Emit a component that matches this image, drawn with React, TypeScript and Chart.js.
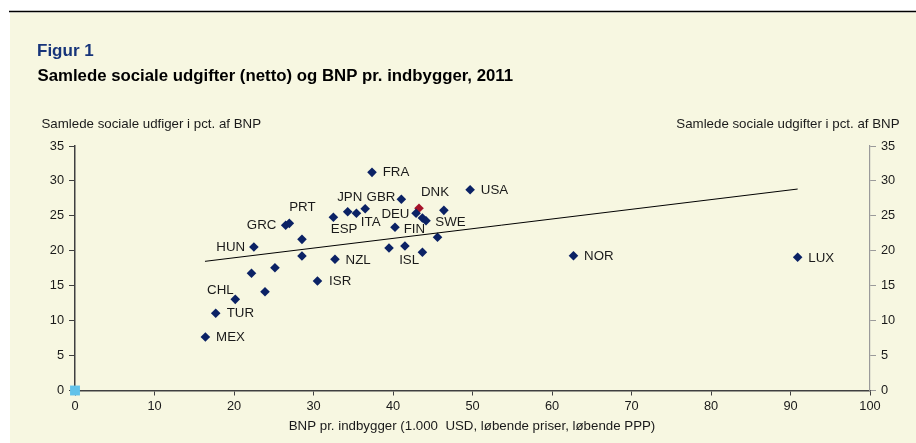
import React, { useEffect, useRef } from 'react';
import Chart from 'chart.js/auto';

// ---- Data ----
const countries = [
  'DNK', 'FRA', 'GBR', 'USA', '', 'DEU', '', 'SWE', '', 'FIN', '', 'ISL', '',
  'ITA', '', 'JPN', 'ESP', 'NZL', 'ISR', '', '', 'GRC', 'PRT', 'HUN', '', '', '',
  'CHL', 'TUR', 'MEX', 'NOR', 'LUX',
];
const gdpPerCapita = [
  43.27, 37.36, 41.05, 49.7, 46.4, 42.9, 43.7, 44.15, 45.6, 40.25, 39.5, 41.5, 43.7,
  36.5, 35.4, 34.3, 32.5, 32.7, 30.5, 28.55, 28.55, 26.5, 26.96, 22.5, 22.2, 25.15, 23.9,
  20.16, 17.7, 16.4, 62.7, 90.9,
];
const socialSpending = [
  26.08, 31.23, 27.37, 28.74, 25.79, 25.37, 24.69, 24.31, 21.93, 23.36, 20.4, 20.68, 19.78,
  26.02, 25.37, 25.59, 24.79, 18.78, 15.67, 21.64, 19.25, 23.65, 23.93, 20.54, 16.78, 17.58, 14.14,
  13.05, 11.05, 7.66, 19.3, 19.07,
];
const highlightCountry = 'DNK';
const trendX = [16.35, 90.9];
const trendY = [18.49, 28.84];
const originX = [0];
const originY = [0];

const xMin = 0, xMax = 100, xStep = 10;
const yMin = 0, yMax = 35, yStep = 5;

const titleText = 'Figur 1';
const subtitleText = 'Samlede sociale udgifter (netto) og BNP pr. indbygger, 2011';
const leftAxisTitle = 'Samlede sociale udfiger i pct. af BNP';
const rightAxisTitle = 'Samlede sociale udgifter i pct. af BNP';
const xAxisTitle = 'BNP pr. indbygger (1.000  USD, løbende priser, løbende PPP)';

// ---- Styles ----
const FONT = '"Liberation Sans", Arial, Helvetica, sans-serif';
const NAVY = '#0B2265';
const RED = '#A5122A';
const LIGHTBLUE = '#62C3EA';
const BEIGE = '#F7F7E1';
const TITLE_BLUE = '#17357A';
const TEXT_SIZE = 13.3;

// label placement (pixel offsets from the marker, text alignment)
const labelPlacement: Record<string, [number, number, CanvasTextAlign]> = {
  FRA: [10.7, 0, 'left'],
  GBR: [-6, -1.5, 'right'],
  DNK: [16, -16, 'center'],
  USA: [10.7, 0.3, 'left'],
  DEU: [-6.6, 0.7, 'right'],
  SWE: [9.3, 2, 'left'],
  FIN: [8.7, 2, 'left'],
  ISL: [4.2, 14, 'center'],
  ITA: [5.5, 13.6, 'center'],
  JPN: [2, -14, 'center'],
  ESP: [10.7, 12, 'center'],
  NZL: [10.6, 0.7, 'left'],
  ISR: [11.6, 0.7, 'left'],
  GRC: [-9.3, 0, 'right'],
  PRT: [13, -16, 'center'],
  HUN: [-8.7, 0.3, 'right'],
  CHL: [-1.6, -8.6, 'right'],
  TUR: [11, 0, 'left'],
  MEX: [10.7, 0.3, 'left'],
  NOR: [10.6, 0.3, 'left'],
  LUX: [10.6, 1, 'left'],
};

const backgroundPlugin = {
  id: 'bgPlugin',
  beforeDraw(chart: any) {
    const { ctx, width, height } = chart;
    ctx.save();
    ctx.fillStyle = '#FFFFFF';
    ctx.fillRect(0, 0, width, height);
    ctx.fillStyle = BEIGE;
    ctx.fillRect(10, 12.5, width - 10, height - 12.5);
    ctx.strokeStyle = '#000000';
    ctx.lineWidth = 1.5;
    ctx.beginPath();
    ctx.moveTo(9, 11.5);
    ctx.lineTo(width, 11.5);
    ctx.stroke();
    ctx.restore();
  },
  afterDraw(chart: any) {
    const { ctx } = chart;
    ctx.save();
    ctx.textBaseline = 'alphabetic';
    ctx.fillStyle = TITLE_BLUE;
    ctx.textAlign = 'left';
    ctx.font = `bold 17px ${FONT}`;
    ctx.fillText(titleText, 37, 55.7);
    ctx.fillStyle = '#000000';
    ctx.font = `bold 16.8px ${FONT}`;
    ctx.fillText(subtitleText, 37.5, 80.5);
    ctx.fillStyle = '#1A1A1A';
    ctx.font = `${TEXT_SIZE}px ${FONT}`;
    ctx.fillText(leftAxisTitle, 41.5, 128.3);
    ctx.textAlign = 'right';
    ctx.fillText(rightAxisTitle, 899.5, 128.3);
    ctx.textAlign = 'center';
    ctx.fillText(xAxisTitle, 472, 430);
    ctx.restore();
  },
  afterDatasetsDraw(chart: any) {
    const { ctx, scales } = chart;
    ctx.save();
    ctx.fillStyle = '#1A1A1A';
    ctx.font = `${TEXT_SIZE}px ${FONT}`;
    ctx.textBaseline = 'middle';
    countries.forEach((c, i) => {
      if (!c) return;
      const p = labelPlacement[c] || [10, 0, 'left'];
      const px = scales.x.getPixelForValue(gdpPerCapita[i]);
      const py = scales.y.getPixelForValue(socialSpending[i]);
      ctx.textAlign = p[2];
      ctx.fillText(c, px + p[0], py + p[1]);
    });
    ctx.restore();
  },
};

export default function App() {
  const ref = useRef<HTMLCanvasElement>(null);
  useEffect(() => {
    if (!ref.current) return;
    const tickFont = { family: FONT, size: 12.8 };
    const chart = new Chart(ref.current, {
      type: 'scatter',
      data: {
        datasets: [
          {
            type: 'line',
            label: 'Trend',
            data: trendX.map((x, i) => ({ x, y: trendY[i] })),
            borderColor: '#000000',
            borderWidth: 1,
            pointRadius: 0,
            fill: false,
            yAxisID: 'y',
          } as any,
          {
            label: 'Lande',
            data: gdpPerCapita.map((x, i) => ({ x, y: socialSpending[i] })),
            pointStyle: 'rectRot',
            pointRadius: 4.8,
            pointBorderWidth: 0,
            pointBackgroundColor: countries.map((c) => (c === highlightCountry ? RED : NAVY)),
            pointBorderColor: countries.map((c) => (c === highlightCountry ? RED : NAVY)),
            yAxisID: 'y',
          },
          {
            label: 'Origo',
            data: originX.map((x, i) => ({ x, y: originY[i] })),
            pointStyle: 'rect',
            pointRadius: 7,
            pointBorderWidth: 0,
            pointBackgroundColor: LIGHTBLUE,
            pointBorderColor: LIGHTBLUE,
            yAxisID: 'y',
            clip: false,
          } as any,
        ],
      },
      options: {
        responsive: false,
        animation: false,
        devicePixelRatio: 1,
        events: [],
        layout: { padding: { left: 35, right: 6, top: 146, bottom: 22.5 } },
        plugins: {
          legend: { display: false },
          tooltip: { enabled: false },
          title: { display: false },
        },
        scales: {
          x: {
            type: 'linear',
            position: 'bottom',
            min: xMin,
            max: xMax,
            afterFit: (s: any) => { s.height = 30; },
            ticks: { stepSize: xStep, font: tickFont, color: '#1A1A1A', padding: 3, maxRotation: 0 },
            grid: { display: true, drawOnChartArea: false, drawTicks: true, tickLength: 5, color: '#404040' },
            border: { display: true, color: '#404040', width: 1.5 },
          },
          y: {
            type: 'linear',
            position: 'left',
            min: yMin,
            max: yMax,
            afterFit: (s: any) => { s.width = 40; },
            ticks: { stepSize: yStep, font: tickFont, color: '#1A1A1A', padding: 5 },
            grid: { display: true, drawOnChartArea: false, drawTicks: true, tickLength: 6, color: '#404040' },
            border: { display: true, color: '#404040', width: 1.5 },
          },
          y2: {
            type: 'linear',
            position: 'right',
            min: yMin,
            max: yMax,
            afterFit: (s: any) => { s.width = 40; },
            ticks: { stepSize: yStep, font: tickFont, color: '#1A1A1A', padding: 5 },
            grid: { display: true, drawOnChartArea: false, drawTicks: true, tickLength: 6, color: '#9A9A9A' },
            border: { display: true, color: '#9A9A9A', width: 1.2 },
          },
        },
      } as any,
      plugins: [backgroundPlugin],
    });
    return () => chart.destroy();
  }, []);
  return (
    <div style={{ position: 'absolute', left: 0, top: 0, width: 916, height: 443 }}>
      <canvas ref={ref} width={916} height={443} style={{ display: 'block', width: 916, height: 443 }} />
    </div>
  );
}
